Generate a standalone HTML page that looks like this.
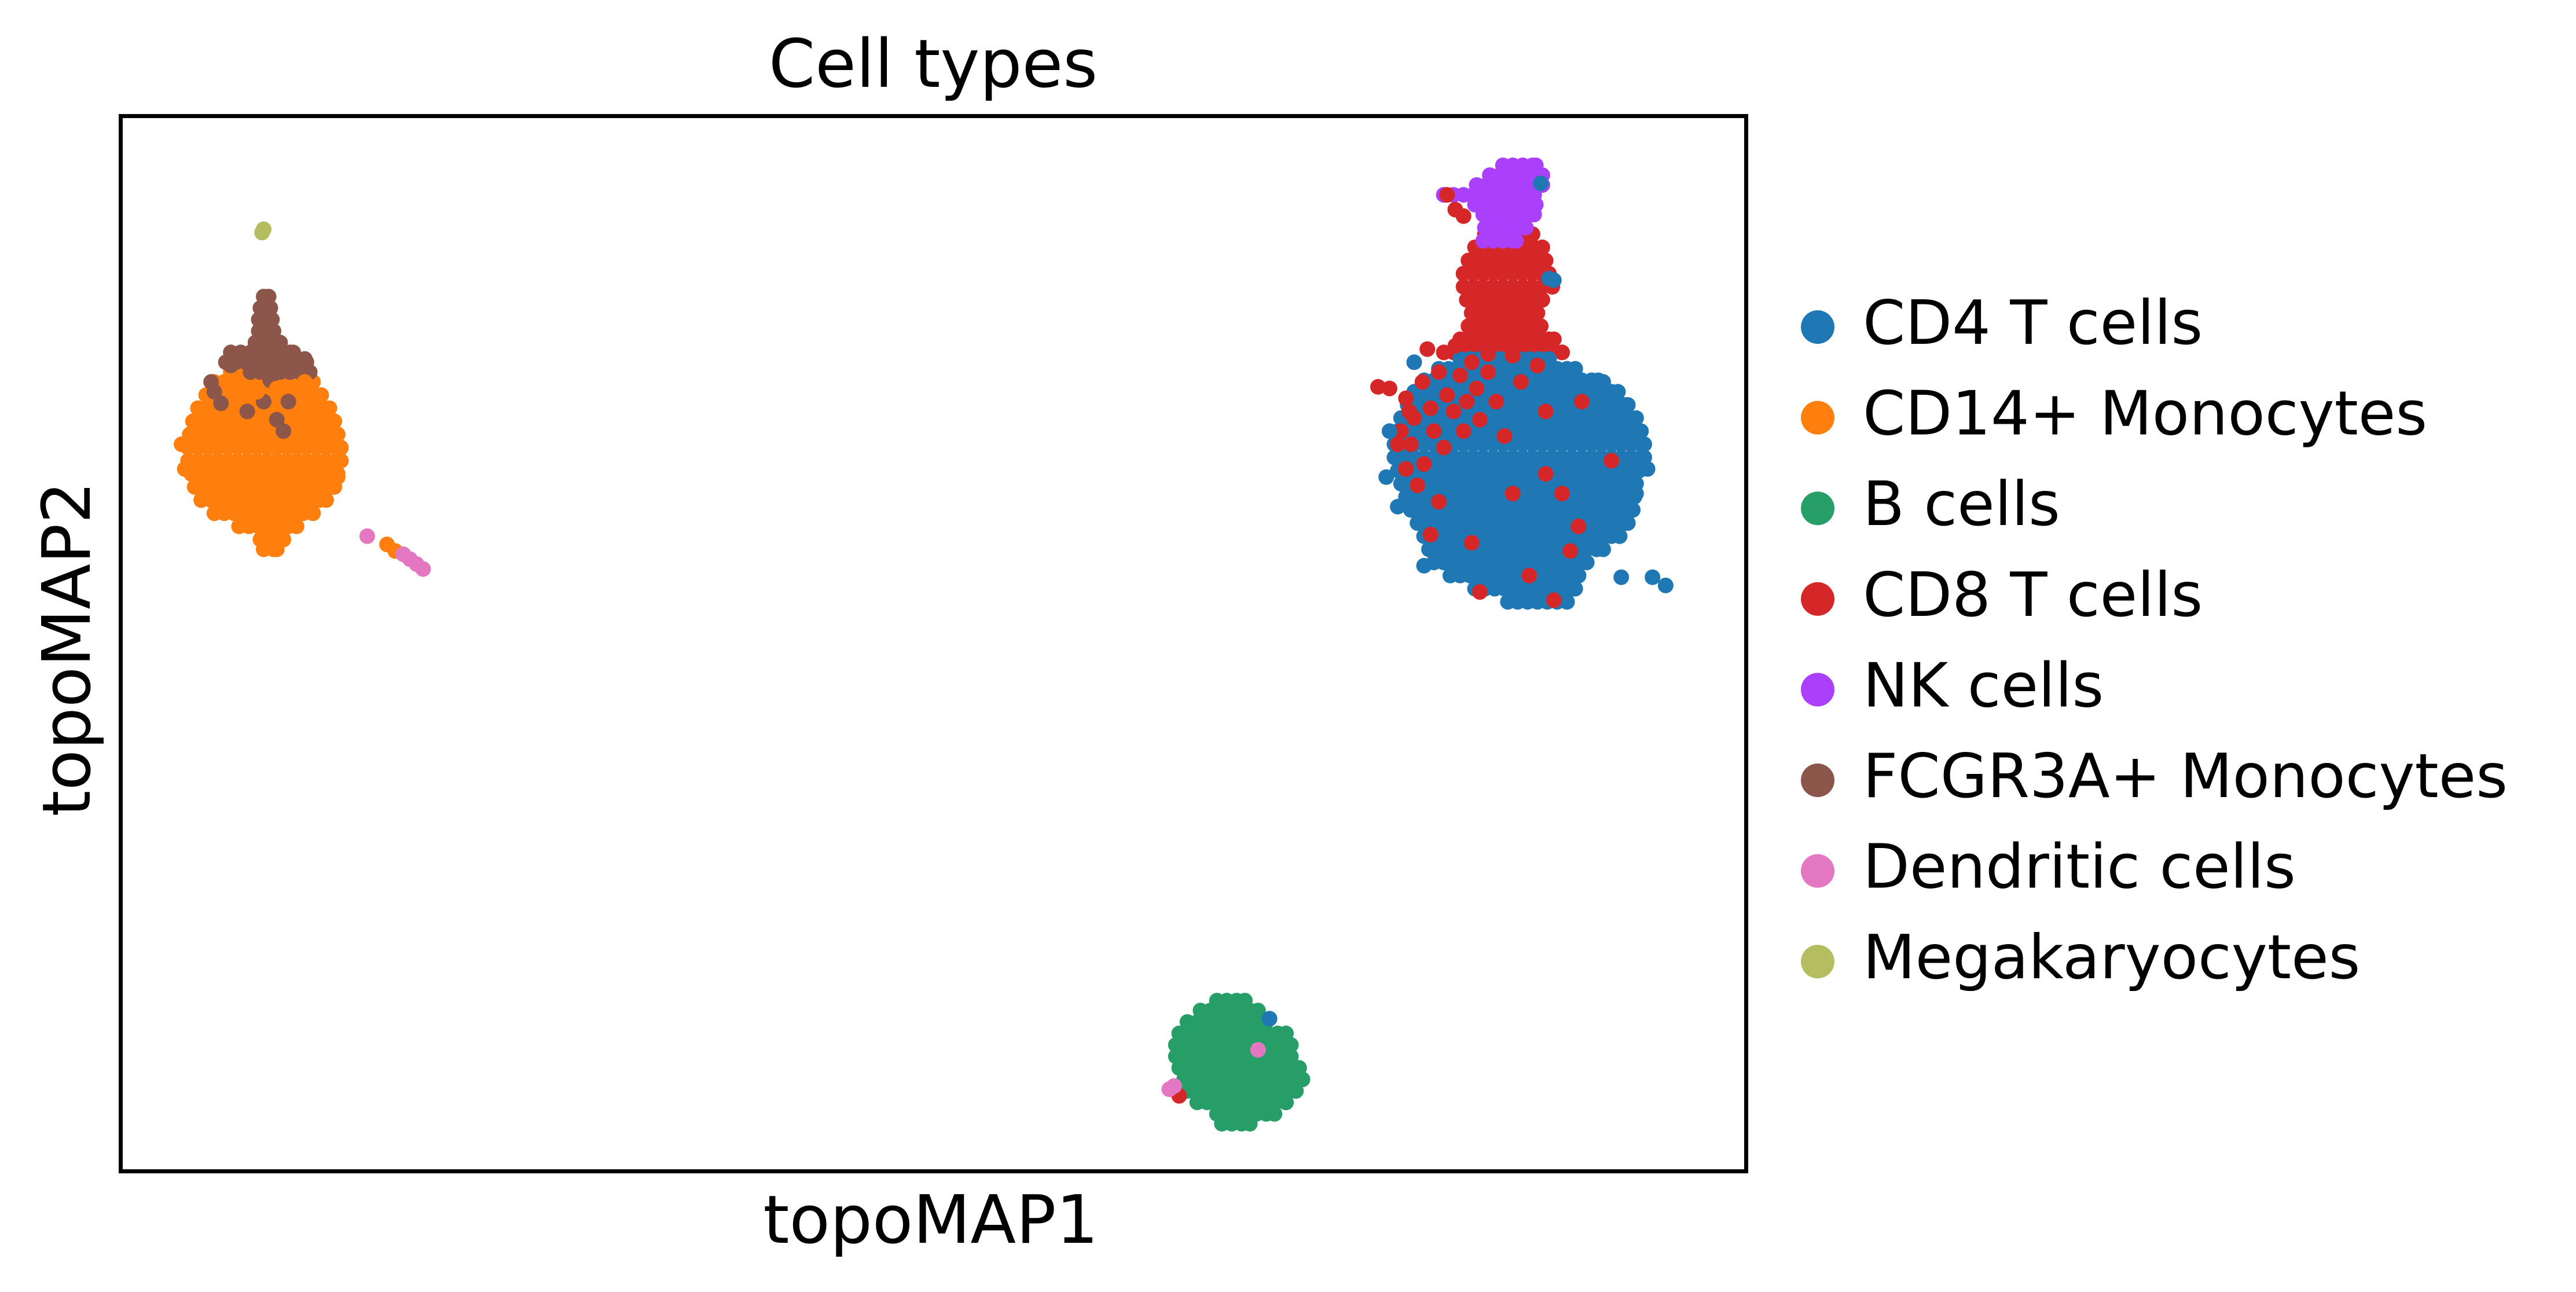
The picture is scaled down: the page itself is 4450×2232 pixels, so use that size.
<!DOCTYPE html>
<html><head><meta charset="utf-8"><style>
html,body{margin:0;padding:0;background:#fff;}
svg{display:block;font-family:"DejaVu Sans","Liberation Sans",sans-serif;}
</style></head><body>
<svg id="chart" width="4450" height="2232" viewBox="0 0 4450 2232" xmlns="http://www.w3.org/2000/svg">
<rect x="0" y="0" width="4450" height="2232" fill="#fff"/>
<g id="points"></g>
<rect x="208.5" y="200.5" width="2808" height="1823" fill="none" stroke="#000" stroke-width="7"/>
<text x="1612" y="150" font-size="115" text-anchor="middle">Cell types</text>
<text x="1608" y="2147" font-size="115" text-anchor="middle">topoMAP1</text>
<text x="155" y="1121" font-size="115" text-anchor="middle" transform="rotate(-90 155 1121)">topoMAP2</text>
<g id="legend"></g>
</svg>
<script>
// Categories & colours
const categories = ["CD4 T cells","CD14+ Monocytes","B cells","CD8 T cells","NK cells","FCGR3A+ Monocytes","Dendritic cells","Megakaryocytes"];
const colors = ["#1f77b4","#ff7f0e","#279e68","#d62728","#aa40fc","#8c564b","#e377c2","#b5bd61"];

// Dense regions as row spans [topoMAP2, topoMAP1 start, topoMAP1 end] (axis units)
const cd8StemSpans = [[142,903,932],[150,897,938],[158,893,940],[166,890,942],[174,890,944],[182,892,938],[190,895,935],[198,893,937],[206,888,945],[214,878,950]];
const nkSpans = [[100,914,934],[106,906,938],[112,898,938],[118,878,933],[124,897,934],[130,902,933],[138,903,928],[146,902,922]];
const cd4Spans = [[218,888,942],[224,875,958],[231,866,972],[238,860,984],[246,856,990],[254,852,995],[262,850,998],[270,848,1000],[278,848,1000],[286,850,997],[294,852,995],[302,855,994],[310,858,993],[318,862,990],[326,866,985],[334,869,975],[342,872,965],[350,882,960],[358,897,958],[366,917,953]];
const cd14Spans = [[226,140,180],[232,130,190],[240,125,195],[248,120,200],[256,117,203],[264,115,205],[272,114,207],[280,114,207],[288,116,205],[296,118,203],[304,122,198],[312,130,190],[320,145,180],[328,158,172],[334,160,168]];
const fcgrSpans = [[180,160,163],[187,158,164],[194,157,165],[201,157,166],[208,155,170],[214,140,178],[220,137,186],[226,152,188]];
const bSpans = [[609,740,757],[615,730,765],[622,722,770],[629,717,782],[636,715,785],[643,715,785],[650,717,790],[657,720,792],[664,722,788],[671,728,782],[678,740,775],[684,743,760]];

// Individual cells [topoMAP1, topoMAP2]
const cd4Single = [[937,111],[942,169],[945,170],[986,351],[1005,351],[1013,356],[866,344],[772,620],[845,262],[843,290],[860,220],[995,300],[1002,285],[980,240],[975,232],[850,308]];
const cd8Single = [[880,118],[885,127],[890,131],[845,236],[838,235],[852,262],[858,270],[870,248],[880,240],[862,295],[900,255],[940,250],[915,265],[950,300],[930,350],[945,365],[980,280],[960,320],[895,330],[870,325],[920,216],[717,667],
  [855,242],[865,232],[875,226],[888,228],[898,236],[905,226],[884,250],[872,262],[860,254],[892,244],[878,272],[866,282],[855,285],[910,244],[925,232],[905,215],[935,222],[868,212],[885,210],[850,270],[857,250],[890,262],[895,220],[962,244],[940,288],[955,335],[920,300],[900,360],[875,305]];
const fcgrSingle = [[134,245],[160,244],[150,250],[168,255],[172,262],[130,238],[175,244],[164,231],[140,222],[185,218],[128,232]];
const cd14Single = [[185,232],[168,236],[156,238],[204,265],[235,331],[240,335],[110,270],[112,285],[200,255],[205,290]];
const dcSingle = [[223,326],[245,337],[249,340],[253,343],[257,346],[765,639],[714,661],[711,663]];
const megaSingle = [[159,141],[160,139]];

// Axis functions
const xDomain=[73,1062], xRange=[208.5,3016.5];
const yDomain=[70,713], yRange=[200.5,2023.5];
function xs(v){return xRange[0]+(v-xDomain[0])/(xDomain[1]-xDomain[0])*(xRange[1]-xRange[0]);}
function ys(v){return yRange[0]+(v-yDomain[0])/(yDomain[1]-yDomain[0])*(yRange[1]-yRange[0]);}
const NS="http://www.w3.org/2000/svg";
const g=document.getElementById('points');
const R=13.5;
function dot(x,y,ci){
  const c=document.createElementNS(NS,'circle');
  c.setAttribute('cx',xs(x).toFixed(1));
  c.setAttribute('cy',ys(y).toFixed(1));
  c.setAttribute('r',R);
  c.setAttribute('fill',colors[ci]);
  
  
  g.appendChild(c);
}
function spans(arr,ci){
  arr.forEach(s=>{
    for(let x=s[1];x<=s[2];x+=6) dot(x,s[0],ci);
    dot(s[2],s[0],ci);
  });
}
function singles(arr,ci){arr.forEach(p=>dot(p[0],p[1],ci));}

spans(cd8StemSpans,3);
spans(nkSpans,4);
spans(cd4Spans,0);
spans(cd14Spans,1);
spans(fcgrSpans,5);
spans(bSpans,2);
singles(cd8Single,3);
singles(cd4Single,0);
singles(fcgrSingle,5);
singles(cd14Single,1);
singles(dcSingle,6);
singles(megaSingle,7);

// Legend
const lg=document.getElementById('legend');
categories.forEach((name,i)=>{
  const cy=565+i*156.6;
  const m=document.createElementNS(NS,'circle');
  m.setAttribute('cx',3140);m.setAttribute('cy',cy);m.setAttribute('r',29);
  m.setAttribute('fill',colors[i]);
  
  
  lg.appendChild(m);
  const t=document.createElementNS(NS,'text');
  t.setAttribute('x',3218);t.setAttribute('y',cy+29);
  t.setAttribute('font-size',105);
  t.textContent=name;
  
  
  lg.appendChild(t);
});
</script>
</body></html>
